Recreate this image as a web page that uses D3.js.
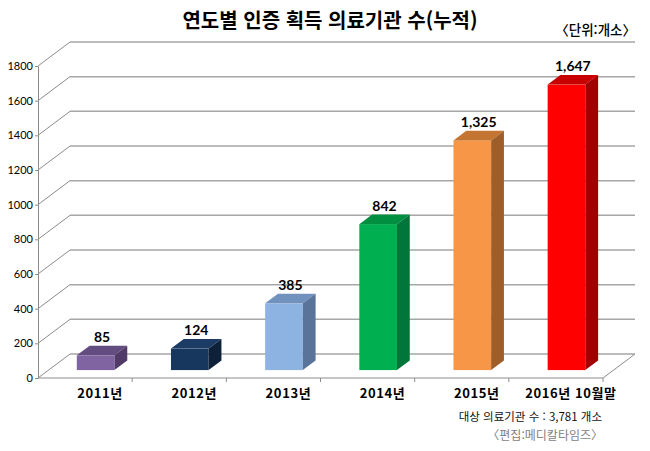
<!DOCTYPE html>
<html lang="ko">
<head>
<meta charset="utf-8">
<title>연도별 인증 획득 의료기관 수</title>
<script src="https://cdn.jsdelivr.net/npm/d3@7"></script>
<style>
  body { margin: 0; background: #fff; }
  .kr { font-family: "Noto Sans CJK KR", sans-serif; }
  .num { font-family: Lato, "Liberation Sans", sans-serif; }
</style>
</head>
<body>
<svg width="650" height="451"></svg>
<script>
// data
var categories = ["2011년", "2012년", "2013년", "2014년", "2015년", "2016년 10월말"];
var values = [85, 124, 385, 842, 1325, 1647];
var valueLabels = ["85", "124", "385", "842", "1,325", "1,647"];
var yTicks = [0, 200, 400, 600, 800, 1000, 1200, 1400, 1600, 1800];

// bar colours: front, top, side
var fronts = ["#8064A2", "#17375E", "#8DB3E2", "#00B050", "#F79646", "#FF0000"];
var tops   = ["#634C80", "#1C3C66", "#7292BE", "#008E40", "#C47532", "#C80000"];
var sides  = ["#4F3B66", "#0E2139", "#5A7499", "#00763A", "#9E5E2A", "#A20000"];

var svg = d3.select("svg");

// depth of the 3d box
var DX = 32, DY = -24;
var barStart = 0.33, barDepth = 0.4;

var x = d3.scaleBand()
    .domain(categories)
    .range([38, 603])
    .padding(0);

var y = d3.scaleLinear()
    .domain([0, 1800])
    .range([378, 66]);

// title
svg.append("text")
  .attr("class", "kr")
  .attr("x", 330)
  .attr("y", 28)
  .attr("text-anchor", "middle")
  .attr("font-size", 20)
  .attr("font-weight", "bold")
  .attr("fill", "#000")
  .text("연도별 인증 획득 의료기관 수(누적)");

svg.append("text")
  .attr("class", "kr")
  .attr("x", 636)
  .attr("y", 35)
  .attr("text-anchor", "end")
  .attr("font-size", 13.5)
  .attr("font-weight", 500)
  .attr("fill", "#000")
  .text("〈단위:개소〉");

// back wall gridlines + diagonals on the side wall
var grid = svg.append("g");
grid.selectAll(".diag")
  .data(yTicks)
  .enter()
  .append("line")
    .attr("x1", 38)
    .attr("y1", function (d) { return y(d); })
    .attr("x2", 38 + DX)
    .attr("y2", function (d) { return y(d) + DY; })
    .attr("stroke", "#8c8c8c")
    .attr("stroke-width", 1);

grid.selectAll(".hline")
  .data(yTicks)
  .enter()
  .append("line")
    .attr("x1", 38 + DX)
    .attr("y1", function (d) { return y(d) + DY; })
    .attr("x2", 603 + DX)
    .attr("y2", function (d) { return y(d) + DY; })
    .attr("stroke", "#a6a6a6")
    .attr("stroke-width", 1.5);

// floor right edge
svg.append("line")
  .attr("x1", 603).attr("y1", y(0))
  .attr("x2", 603 + DX).attr("y2", y(0) + DY)
  .attr("stroke", "#8c8c8c");

// y axis
var yAxis = d3.axisLeft(y)
    .tickValues(yTicks)
    .tickSize(3)
    .tickSizeOuter(0)
    .tickFormat(d3.format("d"));

var ya = svg.append("g")
  .attr("transform", "translate(38,0)")
  .call(yAxis);
ya.select(".domain").attr("stroke", "#8c8c8c");
ya.selectAll(".tick line").attr("stroke", "#8c8c8c");
ya.selectAll(".tick text")
  .attr("class", "num")
  .attr("font-size", 11)
  .attr("fill", "#000")
  .attr("x", -5);

// x axis (floor front edge)
var xa = svg.append("g")
  .attr("transform", "translate(0," + y(0) + ")");
xa.append("line")
  .attr("x1", 38).attr("x2", 603)
  .attr("stroke", "#8c8c8c");
xa.selectAll(".xt")
  .data(categories.slice(1).concat(["end"]))
  .enter()
  .append("line")
    .attr("x1", function (d) { return d === "end" ? 603 : x(d); })
    .attr("x2", function (d) { return d === "end" ? 603 : x(d); })
    .attr("y1", 0)
    .attr("y2", 4)
    .attr("stroke", "#8c8c8c");

xa.selectAll(".xlabel")
  .data(categories)
  .enter()
  .append("text")
    .attr("class", "kr")
    .attr("x", function (d) { return x(d) + x.bandwidth() / 2 + 15; })
    .attr("y", 20)
    .attr("text-anchor", "middle")
    .attr("font-size", 13)
    .attr("font-weight", "bold")
    .attr("letter-spacing", 0.6)
    .attr("fill", "#000")
    .text(function (d) { return d; });

// bars
var bw = x.bandwidth() * 0.4;
var fdx = DX * barStart, fdy = DY * barStart;
var bdx = DX * barDepth, bdy = DY * barDepth;

var bars = svg.selectAll(".bar")
  .data(values)
  .enter()
  .append("g")
    .attr("class", "bar");

function x0(i) { return x(categories[i]) + x.bandwidth() * 0.3 + fdx; }
function yt(d) { return y(d) + fdy; }
var yb = y(0) + fdy;

bars.append("rect")
  .attr("x", function (d, i) { return x0(i); })
  .attr("y", function (d) { return yt(d); })
  .attr("width", bw)
  .attr("height", function (d) { return yb - yt(d); })
  .attr("fill", function (d, i) { return fronts[i]; });

bars.append("polygon")
  .attr("points", function (d, i) {
    var a = x0(i), t = yt(d);
    return [[a, t], [a + bw, t], [a + bw + bdx, t + bdy], [a + bdx, t + bdy]].join(" ");
  })
  .attr("fill", function (d, i) { return tops[i]; });

bars.append("polygon")
  .attr("points", function (d, i) {
    var a = x0(i) + bw, t = yt(d);
    return [[a, t], [a + bdx, t + bdy], [a + bdx, yb + bdy], [a, yb]].join(" ");
  })
  .attr("fill", function (d, i) { return sides[i]; });

// value labels
bars.append("text")
  .attr("class", "num")
  .attr("x", function (d, i) { return x0(i) + bw / 2 + bdx / 2; })
  .attr("y", function (d) { return yt(d) + bdy - 4; })
  .attr("text-anchor", "middle")
  .attr("font-size", 14)
  .attr("font-weight", "bold")
  .attr("fill", "#000")
  .text(function (d, i) { return valueLabels[i]; });

// notes
svg.append("text")
  .attr("class", "kr")
  .attr("x", 602)
  .attr("y", 421)
  .attr("text-anchor", "end")
  .attr("font-size", 11.5)
  .attr("fill", "#111")
  .text("대상 의료기관 수 : 3,781 개소");

svg.append("text")
  .attr("class", "kr")
  .attr("x", 603)
  .attr("y", 440)
  .attr("text-anchor", "end")
  .attr("font-size", 12)
  .attr("fill", "#7f7f7f")
  .text("〈편집:메디칼타임즈〉");
</script>
</body>
</html>
